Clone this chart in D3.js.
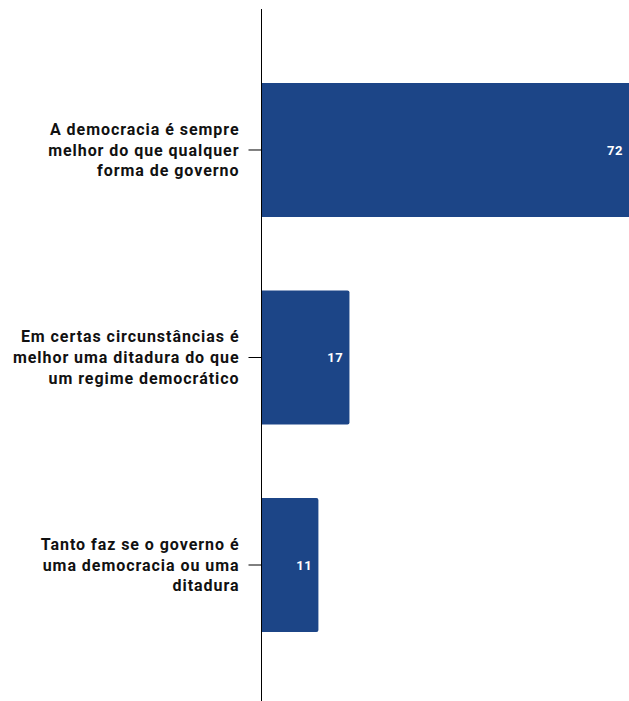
<!DOCTYPE html>
<html>
<head>
<meta charset="utf-8">
<script src="https://cdn.jsdelivr.net/npm/d3@7"></script>
<style>
  html, body { margin: 0; padding: 0; background: #fff; }
  svg { display: block; }
  svg text { font-family: Roboto, "Noto Sans", sans-serif; }
</style>
</head>
<body>
<div id="chart"></div>
<script>
// categories, one label line per "\n"
const categories = [
    "A democracia é sempre\nmelhor do que qualquer\nforma de governo",
    "Em certas circunstâncias é\nmelhor uma ditadura do que\num regime democrático",
    "Tanto faz se o governo é\numa democracia ou uma\nditadura"
];
const values = [72, 17, 11];

const W = 629, H = 701;
const margin = {top: 9, right: 0, bottom: 1, left: 261.5};
const BAR_FILL = "#1c4587";

const svg = d3.select("#chart").append("svg")
    .attr("width", W)
    .attr("height", H);

const x = d3.scaleLinear()
    .domain([0, 72])
    .range([margin.left, 634]);

const y = d3.scaleBand()
    .domain(categories)
    .range([margin.top + 3, H + 2])
    .paddingInner(0.354)
    .paddingOuter(0.342);

const data = categories.map((c, i) => ({cat: c, value: values[i]}));

// bars with slightly rounded right end
svg.append("g").selectAll("path")
    .data(data)
    .enter().append("path")
    .attr("fill", BAR_FILL)
    .attr("d", d => {
        const x0 = x(0), x1 = x(d.value), y0 = y(d.cat), y1 = y0 + y.bandwidth(), r = 2;
        return `M${x0},${y0}H${x1 - r}Q${x1},${y0} ${x1},${y0 + r}V${y1 - r}Q${x1},${y1} ${x1 - r},${y1}H${x0}Z`;
    });

// value labels
svg.append("g").selectAll("text")
    .data(data)
    .enter().append("text")
    .attr("x", d => Math.min(x(d.value), W) - 6)
    .attr("y", d => y(d.cat) + y.bandwidth() / 2)
    .attr("dy", "0.35em")
    .attr("text-anchor", "end")
    .attr("fill", "#fff")
    .style("font-size", "13px")
    .style("font-weight", "bold")
    .style("letter-spacing", "0.6px")
    .text(d => d.value);

// y axis
const axis = svg.append("g")
    .attr("transform", `translate(${margin.left},0)`)
    .call(d3.axisLeft(y).tickSize(13).tickPadding(10).tickFormat(""));

axis.attr("font-family", null);
axis.select(".domain").remove();
axis.selectAll(".tick line").attr("stroke", "#000");
axis.append("line")
    .attr("x1", 0).attr("x2", 0)
    .attr("y1", margin.top).attr("y2", H)
    .attr("stroke", "#000");

// multi-line category labels
axis.selectAll(".tick").each(function (d) {
    const lines = d.split("\n");
    const lh = 20.8;
    const t = d3.select(this).select("text")
        .attr("fill", "#111")
        .style("font-size", "16px")
        .style("font-weight", "bold")
        .style("letter-spacing", "0.95px")
        .attr("dy", null);
    t.selectAll("tspan")
        .data(lines)
        .enter().append("tspan")
        .attr("x", -22)
        .attr("y", (l, i) => (i - (lines.length - 1) / 2) * lh)
        .attr("dy", "0.35em")
        .text(l => l);
});
</script>
</body>
</html>
